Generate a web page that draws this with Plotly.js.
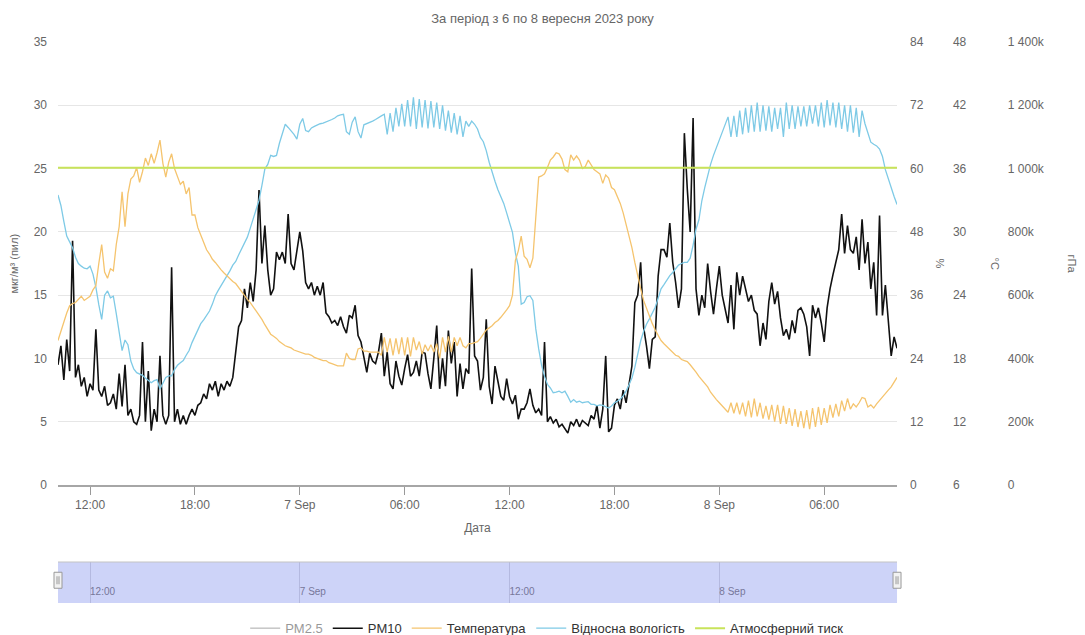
<!DOCTYPE html>
<html><head><meta charset="utf-8">
<script src="https://cdn.plot.ly/plotly-3.0.1.min.js"></script>
<style>html,body{margin:0;padding:0;background:#fff}#chart{width:1085px;height:635px}</style>
</head><body><div id="chart"></div>
<script>
// ---- data (10-minute samples from 2023-09-06 10:10 to 2023-09-08 10:10) ----
const startTime = '2023-09-06 10:10';
const endTime = '2023-09-08 10:10';
const stepMinutes = 10;

const pm10 = [
 9.5, 11.0, 8.3, 11.5, 9.0, 19.3, 8.5, 9.5, 7.8, 8.5,
 7.0, 8.0, 7.5, 12.3, 7.5, 7.0, 7.8, 6.3, 6.5, 7.2,
 6.0, 8.8, 6.2, 9.5, 5.5, 6.0, 5.0, 4.8, 5.5, 11.3,
 5.0, 9.0, 4.3, 6.0, 5.0, 10.2, 5.5, 4.8, 5.5, 17.2,
 5.0, 6.0, 4.8, 5.5, 4.8, 5.5, 6.0, 5.5, 6.3, 6.5,
 7.2, 6.8, 8.0, 7.5, 8.2, 7.0, 8.0, 7.5, 8.2, 7.8,
 8.5, 10.5, 12.5, 13.0, 15.5, 14.0, 16.0, 14.5, 17.0, 23.3,
 17.5, 20.5, 17.0, 15.0, 15.5, 18.4, 17.8, 18.4, 17.5, 21.4,
 17.5, 17.0, 18.6, 20.0, 18.5, 16.0, 15.5, 16.0, 15.0, 15.7,
 15.0, 16.0, 13.6, 13.3, 12.8, 13.0, 12.6, 13.3, 12.5, 12.0,
 13.4, 13.2, 14.2, 11.8, 11.3, 10.2, 8.9, 10.4, 9.8, 9.6,
 10.5, 12.0, 8.6, 10.5, 8.0, 7.6, 9.8, 8.6, 7.9, 9.2,
 10.3, 8.6, 8.9, 9.8, 8.6, 10.5, 10.4, 8.8, 7.6, 10.0,
 12.6, 7.6, 10.0, 7.8, 12.2, 9.6, 11.3, 7.0, 9.6, 7.6,
 9.2, 8.8, 17.1, 10.2, 9.8, 7.5, 8.5, 13.1, 7.8, 6.4,
 9.4, 8.2, 7.0, 6.7, 8.4, 7.0, 6.4, 7.1, 5.2, 6.0,
 6.0, 6.5, 7.6, 6.3, 5.7, 6.0, 5.5, 11.3, 5.0, 5.4,
 4.9, 5.2, 4.6, 4.8, 4.4, 4.1, 5.0, 4.7, 5.2, 4.6,
 5.1, 4.9, 4.7, 5.5, 5.2, 6.3, 4.5, 6.0, 10.2, 4.2,
 4.5, 6.3, 6.8, 6.0, 7.5, 6.5, 8.0, 9.4, 14.4, 15.0,
 17.6, 12.5, 11.0, 9.2, 11.5, 11.7, 16.5, 18.6, 18.6, 18.0,
 20.7, 17.6, 16.0, 14.0, 15.5, 27.8, 23.4, 20.0, 29.0, 15.5,
 13.4, 15.0, 14.0, 17.5, 15.3, 13.5, 15.5, 17.3, 15.0, 14.0,
 12.8, 15.8, 12.3, 16.8, 15.0, 16.5, 15.5, 14.5, 15.0, 13.8,
 13.5, 11.0, 12.8, 11.5, 14.5, 16.0, 14.3, 15.3, 13.2, 11.8,
 12.3, 11.5, 13.0, 12.0, 13.8, 14.0, 13.5, 12.5, 10.2, 14.2,
 13.2, 14.0, 12.8, 11.3, 14.0, 15.5, 16.6, 17.5, 18.6, 21.4,
 18.3, 20.5, 18.6, 18.3, 19.6, 17.0, 21.0, 17.5, 19.2, 15.5,
 17.6, 13.4, 21.3, 13.4, 15.8, 13.0, 10.2, 11.7, 10.8
];

const temperature = [
 19.7, 20.6, 21.4, 22.3, 23.0, 23.2, 23.3, 23.6, 23.9, 23.5,
 23.7, 23.9, 24.5, 24.9, 27.0, 28.8, 26.2, 25.6, 26.5, 26.3,
 28.8, 30.5, 33.8, 30.5, 33.6, 35.0, 35.3, 36.1, 34.7, 35.7,
 37.0, 36.3, 37.4, 36.5, 37.5, 38.7, 36.5, 35.2, 36.6, 37.4,
 36.0, 35.2, 34.5, 34.8, 33.6, 34.2, 31.6, 31.6, 30.4, 29.7,
 29.0, 28.3, 27.9, 27.4, 27.1, 26.7, 26.4, 26.1, 25.8, 25.5,
 25.3, 25.1, 24.7, 24.4, 24.0, 23.6, 23.3, 22.9, 22.6, 22.1,
 21.7, 21.2, 20.8, 20.3, 20.1, 19.9, 19.6, 19.4, 19.2, 19.1,
 19.0, 18.8, 18.7, 18.6, 18.5, 18.4, 18.4, 18.3, 18.1, 18.0,
 17.9, 17.8, 17.8, 17.6, 17.5, 17.4, 17.3, 17.3, 17.3, 18.5,
 18.0, 17.9, 17.9, 18.9, 19.0, 18.7, 18.7, 18.6, 18.6, 18.6,
 18.6, 18.3, 20.0, 18.6, 19.9, 18.3, 19.9, 18.4, 20.0, 18.3,
 20.0, 18.2, 20.0, 18.8, 19.6, 18.4, 19.3, 18.7, 19.3, 18.6,
 19.4, 18.0, 20.0, 18.6, 20.1, 18.6, 20.0, 19.2, 20.0, 19.2,
 19.0, 19.4, 19.4, 19.5, 19.6, 19.9, 20.3, 20.7, 20.9, 21.1,
 21.4, 21.6, 21.9, 22.2, 22.6, 23.0, 24.0, 27.3, 28.2, 29.6,
 27.7, 27.4, 26.6, 27.5, 31.5, 35.2, 35.3, 35.5, 36.1, 36.8,
 37.1, 37.5, 37.4, 36.9, 35.9, 35.7, 37.3, 36.8, 37.2, 36.8,
 36.0, 36.2, 36.8, 36.3, 35.9, 35.7, 35.5, 34.6, 35.4, 35.1,
 34.2, 34.0, 33.4, 32.7, 31.8, 30.7, 29.8, 28.5, 27.1, 25.7,
 24.6, 23.5, 22.7, 21.9, 21.3, 20.7, 20.2, 19.7, 19.4, 19.1,
 18.8, 18.5, 18.3, 18.2, 17.9, 17.8, 17.7, 17.4, 17.1, 16.7,
 16.3, 16.0, 15.7, 15.3, 14.8, 14.4, 14.1, 13.8, 13.5, 13.2,
 12.9, 13.8, 12.8, 13.8, 12.7, 13.8, 12.5, 14.0, 12.4, 14.2,
 12.5, 13.8, 12.3, 13.5, 12.2, 13.6, 12.0, 13.6, 11.8, 13.5,
 11.8, 13.3, 11.6, 13.2, 11.5, 13.0, 11.4, 13.1, 11.3, 13.3,
 11.5, 13.4, 11.7, 13.3, 11.9, 13.6, 12.4, 13.7, 12.5, 14.0,
 13.0, 14.2, 13.2, 13.7, 13.4, 13.8, 14.3, 14.2, 13.4, 13.6,
 13.3, 13.7, 14.0, 14.4, 14.7, 15.0, 15.3, 15.8, 16.2
];

const humidity = [
 55.0, 53.0, 50.0, 47.2, 46.1, 45.0, 43.2, 42.0, 41.5, 41.1,
 41.0, 41.5, 40.0, 37.5, 34.2, 31.4, 36.0, 36.8, 35.5, 35.8,
 32.5, 28.5, 25.5, 27.5, 26.6, 23.5, 22.0, 21.3, 21.1, 20.8,
 20.3, 19.8, 19.4, 19.8, 20.0, 18.2, 19.2, 20.4, 20.7, 20.7,
 21.9, 22.7, 23.2, 23.6, 24.6, 25.5, 27.0, 28.3, 29.4, 30.6,
 31.3, 32.2, 33.0, 34.3, 35.9, 36.9, 37.8, 38.8, 39.5, 40.6,
 41.7, 42.4, 43.6, 44.7, 45.7, 47.0, 48.7, 50.6, 52.3, 54.0,
 56.8, 59.9, 60.8, 62.5, 62.3, 62.5, 64.8, 66.8, 68.4, 67.8,
 67.2, 66.5, 65.6, 68.4, 69.5, 67.2, 67.0, 67.7, 68.0, 68.3,
 68.5, 68.6, 68.8, 69.1, 69.3, 69.6, 70.0, 70.2, 70.3, 67.0,
 66.5, 68.8, 69.8, 67.0, 65.8, 68.3, 68.5, 68.8, 69.0, 69.3,
 69.7, 70.0, 70.3, 66.5, 70.5, 67.0, 71.5, 68.0, 72.3, 68.0,
 73.0, 68.0, 73.5, 67.5, 73.2, 67.8, 73.0, 67.6, 72.8, 67.8,
 72.5, 67.5, 72.0, 67.2, 71.0, 66.8, 70.5, 66.5, 70.0, 66.0,
 69.0, 68.0, 69.0, 68.4, 67.5, 65.9, 65.1, 63.4, 61.2, 59.2,
 57.6, 56.0, 54.8, 53.4, 51.6, 49.9, 47.9, 44.0, 41.5, 34.3,
 34.6, 35.7, 35.9, 35.0, 29.6, 25.8, 22.7, 20.6, 19.1, 18.4,
 17.5, 17.6, 17.8, 17.5, 17.8, 16.8, 15.7, 16.2, 15.7, 15.9,
 15.6, 15.7, 15.8, 15.3, 15.3, 15.0, 15.2, 15.1, 14.8, 14.6,
 15.0, 15.6, 15.9, 16.3, 16.9, 17.8, 19.0, 20.3, 22.3, 25.0,
 27.3, 29.1, 30.5, 31.5, 32.6, 33.7, 35.4, 37.2, 38.0, 38.9,
 39.7, 40.3, 41.0, 41.7, 42.0, 42.2, 42.2, 43.0, 45.5, 48.5,
 50.3, 53.9, 56.4, 58.8, 60.8, 62.5, 63.9, 65.3, 66.8, 68.1,
 69.8, 66.0, 70.0, 66.0, 71.0, 66.5, 71.5, 66.8, 72.0, 67.0,
 72.5, 67.0, 72.0, 67.2, 71.8, 67.0, 71.5, 67.5, 71.5, 66.0,
 72.5, 67.5, 72.0, 67.5, 71.8, 68.0, 71.8, 68.0, 72.0, 68.5,
 72.0, 68.0, 72.5, 67.8, 73.0, 68.2, 72.5, 67.8, 72.5, 67.5,
 72.0, 67.0, 72.0, 66.8, 71.5, 66.0, 71.0, 68.5, 66.5, 65.0,
 64.6, 64.3, 63.7, 62.3, 59.8, 58.0, 56.2, 54.7, 53.2
];

const pressureTimes = ['2023-09-06 10:10', '2023-09-06 16:10', '2023-09-06 22:10', '2023-09-07 04:10',
  '2023-09-07 10:10', '2023-09-07 16:10', '2023-09-07 22:10', '2023-09-08 04:10', '2023-09-08 10:10'];
const pressure = [1003000, 1003000, 1003000, 1003000, 1003000, 1003000, 1003000, 1003000, 1003000];

const xTickVals = ['2023-09-06 12:00', '2023-09-06 18:00', '2023-09-07 00:00', '2023-09-07 06:00',
  '2023-09-07 12:00', '2023-09-07 18:00', '2023-09-08 00:00', '2023-09-08 06:00'];
const xTickText = ['12:00', '18:00', '7 Sep', '06:00', '12:00', '18:00', '8 Sep', '06:00'];
const navTickVals = ['2023-09-06 12:00', '2023-09-07 00:00', '2023-09-07 12:00', '2023-09-08 00:00'];
const navTickText = ['12:00', '7 Sep', '12:00', '8 Sep'];

const pmTicks = [0, 5, 10, 15, 20, 25, 30, 35];
const humTicks = [0, 12, 24, 36, 48, 60, 72, 84];
const tempTicks = [6, 12, 18, 24, 30, 36, 42, 48];
const presTickVals = [0, 200000, 400000, 600000, 800000, 1000000, 1200000, 1400000];
const presTickText = ['0', '200k', '400k', '600k', '800k', '1 000k', '1 200k', '1 400k'];

// ---- build ----
function pad(n) { return String(n).padStart(2, '0'); }
function timeAt(k) {
  const minutes = 10 * 60 + 10 + k * stepMinutes;
  const day = 6 + Math.floor(minutes / 1440);
  const m = minutes % 1440;
  return '2023-09-' + pad(day) + ' ' + pad(Math.floor(m / 60)) + ':' + pad(m % 60);
}
const times = pm10.map((_, k) => timeAt(k));

const D = 0.825;             // right edge of plotting area (fraction of plot width)
const mainBottom = 0.2103;   // bottom of main panel
const navTop = 0.0731;       // top of navigator panel
const axisFont = {size: 12, color: '#666'};

const traces = [
  {name: 'PM2.5', type: 'scatter', mode: 'lines', x: [null], y: [null], visible: 'legendonly',
   line: {color: '#8c8c8c', width: 1.5}},
  {name: 'PM10', type: 'scatter', mode: 'lines', x: times, y: pm10, yaxis: 'y',
   line: {color: '#111111', width: 1.6}},
  {name: 'Температура', type: 'scatter', mode: 'lines', x: times, y: temperature, yaxis: 'y3',
   line: {color: '#f5c46e', width: 1.3}},
  {name: 'Відносна вологість', type: 'scatter', mode: 'lines', x: times, y: humidity, yaxis: 'y2',
   line: {color: '#7ecae6', width: 1.3}},
  {name: 'Атмосферний тиск', type: 'scatter', mode: 'lines', x: pressureTimes, y: pressure, yaxis: 'y4',
   line: {color: '#c8e35a', width: 2}},
  {name: 'nav', type: 'scatter', mode: 'lines', x: [null], y: [null], xaxis: 'x2', yaxis: 'y5',
   showlegend: false, hoverinfo: 'skip'}
];

const handle = (xa) => ([
  {type: 'rect', xref: 'paper', yref: 'paper', xsizemode: 'pixel', ysizemode: 'pixel',
   xanchor: xa, x0: -4, x1: 4, yanchor: navTop / 2 + 0.004, y0: -8, y1: 8,
   fillcolor: '#f2f2f2', line: {color: '#999', width: 1}},
  {type: 'line', xref: 'paper', yref: 'paper', xsizemode: 'pixel', ysizemode: 'pixel',
   xanchor: xa, x0: -1, x1: -1, yanchor: navTop / 2 + 0.004, y0: -4, y1: 4, line: {color: '#999', width: 1}},
  {type: 'line', xref: 'paper', yref: 'paper', xsizemode: 'pixel', ysizemode: 'pixel',
   xanchor: xa, x0: 1, x1: 1, yanchor: navTop / 2 + 0.004, y0: -4, y1: 4, line: {color: '#999', width: 1}}
]);

const layout = {
  width: 1085, height: 635,
  margin: {l: 58, r: 10, t: 42, b: 32, autoexpand: false},
  paper_bgcolor: '#ffffff', plot_bgcolor: 'rgba(0,0,0,0)',
  font: {family: '"Liberation Sans", Arial, sans-serif', size: 12, color: '#666'},
  title: {text: 'За період з 6 по 8 вересня 2023 року', x: 0.5, xref: 'container',
          y: 1 - 18 / 635, yref: 'container', yanchor: 'middle', font: {size: 13, color: '#666'}},
  showlegend: true,
  legend: {orientation: 'h', x: 0.481, xanchor: 'center', y: -0.045, yanchor: 'middle',
           font: {size: 13, color: '#333'}, bgcolor: 'rgba(0,0,0,0)'},
  xaxis: {domain: [0, D], anchor: 'y', type: 'date', range: [startTime, endTime],
          tickmode: 'array', tickvals: xTickVals, ticktext: xTickText,
          ticks: 'outside', ticklen: 8, tickcolor: '#999', tickwidth: 1,
          showline: true, linecolor: '#a6a6a6', linewidth: 2, showgrid: false, zeroline: false,
          tickfont: axisFont, title: {text: 'Дата', font: {size: 12, color: '#666'}, standoff: 12}},
  yaxis: {domain: [mainBottom, 1], range: [0, 35], tickmode: 'array', tickvals: pmTicks,
          gridcolor: '#e6e6e6', gridwidth: 1, showline: false, zeroline: false, ticks: '',
          ticklabelstandoff: 10, tickfont: axisFont},
  yaxis2: {overlaying: 'y', side: 'right', anchor: 'x', range: [0, 84], tickmode: 'array', tickvals: humTicks,
           showgrid: false, zeroline: false, showline: false, ticks: '', ticklabelstandoff: 12, tickfont: axisFont},
  yaxis3: {overlaying: 'y', side: 'right', anchor: 'free', position: 0.877, range: [6, 48], tickmode: 'array',
           tickvals: tempTicks, showgrid: false, zeroline: false, showline: false, ticks: '', ticklabelstandoff: 2,
           tickfont: axisFont},
  yaxis4: {overlaying: 'y', side: 'right', anchor: 'free', position: 0.931, range: [0, 1400000], tickmode: 'array',
           tickvals: presTickVals, ticktext: presTickText, showgrid: false, zeroline: false, showline: false,
           ticks: '', ticklabelstandoff: 2, tickfont: axisFont},
  xaxis2: {domain: [0, D], anchor: 'y5', type: 'date', range: [startTime, endTime],
           tickmode: 'array', tickvals: navTickVals, ticktext: navTickText, ticklabelposition: 'inside right',
           ticks: '', showgrid: true, gridcolor: '#b4b9e0', gridwidth: 1, showline: false, zeroline: false,
           tickfont: {size: 10, color: '#77779a'}},
  yaxis5: {domain: [0, navTop], range: [0, 1], visible: false, fixedrange: true},
  shapes: [
    {type: 'rect', xref: 'paper', yref: 'paper', x0: 0, x1: D, y0: 0, y1: navTop,
     fillcolor: '#cdd3f8', line: {width: 0}, layer: 'below'},
    {type: 'line', xref: 'paper', yref: 'paper', x0: 0, x1: D, y0: navTop, y1: navTop,
     line: {color: '#c4c4c4', width: 1}, layer: 'above'},
    ...handle(0), ...handle(D)
  ],
  annotations: [
    {text: 'мкг/м³ (пил)', xref: 'paper', yref: 'paper', x: (14 - 58) / 1017, y: (mainBottom + 1) / 2,
     textangle: -90, showarrow: false, font: {size: 11, color: '#666'}, xanchor: 'center', yanchor: 'middle'},
    {text: '%', xref: 'paper', yref: 'paper', x: (940 - 58) / 1017, y: (mainBottom + 1) / 2,
     textangle: 90, showarrow: false, font: {size: 11, color: '#666'}, xanchor: 'center', yanchor: 'middle'},
    {text: '°C', xref: 'paper', yref: 'paper', x: (995 - 58) / 1017, y: (mainBottom + 1) / 2,
     textangle: 90, showarrow: false, font: {size: 11, color: '#666'}, xanchor: 'center', yanchor: 'middle'},
    {text: 'гПа', xref: 'paper', yref: 'paper', x: (1072 - 58) / 1017, y: (mainBottom + 1) / 2,
     textangle: 90, showarrow: false, font: {size: 11, color: '#666'}, xanchor: 'center', yanchor: 'middle'}
  ]
};

Plotly.newPlot('chart', traces, layout, {displayModeBar: false, staticPlot: true});
</script>
</body></html>
